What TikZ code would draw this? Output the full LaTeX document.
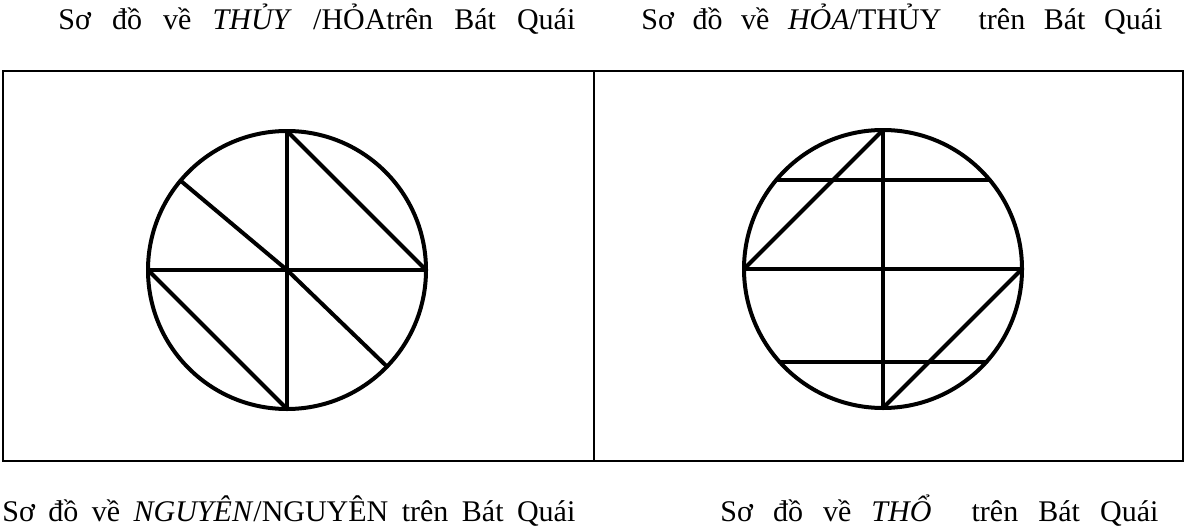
\documentclass[tikz,border=0pt]{standalone}
\usepackage{fontspec}
\setmainfont{Liberation Serif}
\usepackage{tikz}
\usetikzlibrary{positioning, calc}
\tikzstyle{frame} = [line width=1pt, black]
\tikzstyle{divider} = [line width=0.8pt, black]
\tikzstyle{wheel} = [circle, draw, line width=2pt, minimum size=139pt, inner sep=0pt, outer sep=0pt]
\tikzstyle{chord} = [line width=2pt, line cap=round]
\tikzstyle{caption} = [inner sep=0pt, anchor=base west, font=\fontsize{15}{18}\selectfont]

\begin{document}
\begin{tikzpicture}[x=0.5pt, y=0.5pt]
    \useasboundingbox (0,0) rectangle (1187,526);

    % Frame
    \coordinate (frameSW) at (3,65);
    \coordinate (frameNE) at (1183,455);
    \coordinate (divTop) at (594,455);
    \coordinate (divBot) at (594,65);
    \draw [frame] (frameSW) rectangle (frameNE);
    \draw [divider] (divTop) -- (divBot);

    % Left circle
    \node (thuy) [wheel] at (287,256) {};
    \draw [chord] (thuy.north) -- (thuy.south);
    \draw [chord] (thuy.west) -- (thuy.east);
    \draw [chord] (thuy.140) -- (thuy.center);
    \draw [chord] (thuy.center) -- (thuy.-44);
    \draw [chord] (thuy.north) -- (thuy.east);
    \draw [chord] (thuy.west) -- (thuy.south);

    % Right circle
    \node (hoa) [wheel] at (883,257) {};
    \draw [chord] (hoa.north) -- (hoa.south);
    \draw [chord] (hoa.west) -- (hoa.east);
    \draw [chord] (hoa.140) -- (hoa.40);
    \draw [chord] (hoa.-138) -- (hoa.-42);
    \draw [chord] (hoa.north) -- (hoa.west);
    \draw [chord] (hoa.east) -- (hoa.south);

    % Captions
    \node (capTL) [caption] at (58,496) {\makebox[258.5pt][s]{Sơ đồ về \textit{THỦY} /HỎAtrên Bát Quái}};
    \node (capTR) [caption] at (641,496) {\makebox[260.5pt][s]{Sơ đồ về \textit{HỎA}/THỦY\ \ trên Bát Quái}};
    \node (capBL) [caption] at (2,5) {\makebox[286.5pt][s]{Sơ đồ về \textit{NGUYÊN}/NGUYÊN trên Bát Quái}};
    \node (capBR) [caption] at (720,5) {\makebox[219pt][s]{Sơ đồ về \textit{THỔ}\ \ trên Bát Quái}};

\end{tikzpicture}
\end{document}
